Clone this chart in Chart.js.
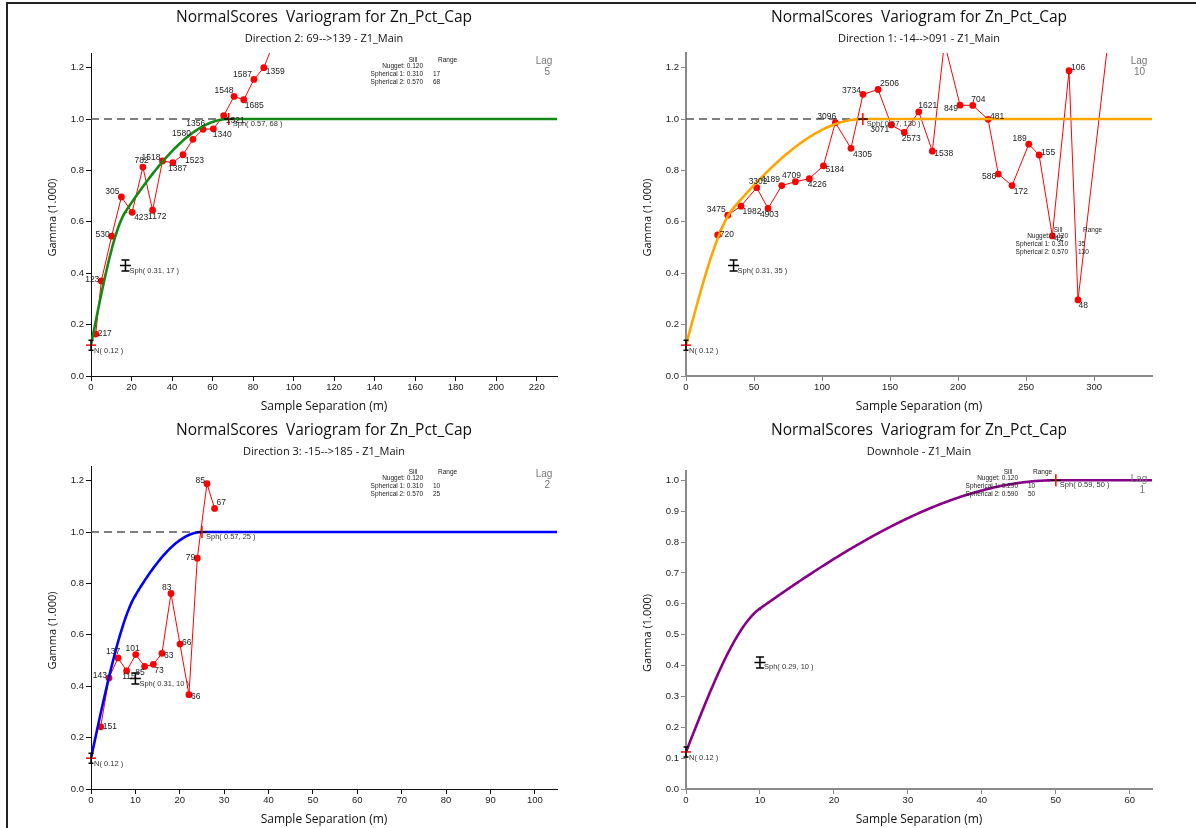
<!DOCTYPE html>
<html>
<head>
<meta charset="utf-8">
<script src="https://cdn.jsdelivr.net/npm/chart.js@4.4.1/dist/chart.umd.min.js"></script>
<style>
  html, body { margin: 0; padding: 0; background: #ffffff; }
  #page { position: relative; width: 1196px; height: 828px; overflow: hidden; background: #fff; }
  #page canvas { position: absolute; }
  .rule { position: absolute; background: #222; }
</style>
</head>
<body>
<div id="page">
  <canvas id="cDir2" width="598" height="414" style="left:0px;top:0px"></canvas>
  <canvas id="cDir1" width="598" height="414" style="left:598px;top:0px"></canvas>
  <canvas id="cDir3" width="598" height="414" style="left:0px;top:414px"></canvas>
  <canvas id="cDown" width="598" height="414" style="left:598px;top:414px"></canvas>
  <div class="rule" style="left:6px;top:2px;width:1.5px;height:826px"></div>
  <div class="rule" style="left:6px;top:2px;width:1190px;height:1.5px"></div>
</div>
<script>
// ---- Experimental variogram, Direction 2: 69-->139 (lag 5) ----
const lagDir2   = [2.3, 5.1, 10.2, 15.0, 20.3, 25.6, 30.4, 35.3, 40.4, 45.4, 50.3, 55.3, 60.4, 65.5, 70.6, 75.4, 80.4, 85.3, 90.3];
const gammaDir2 = [0.163, 0.370, 0.544, 0.697, 0.637, 0.813, 0.645, 0.837, 0.830, 0.861, 0.921, 0.960, 0.962, 1.013, 1.088, 1.075, 1.154, 1.200, 1.300];
const pairsDir2 = [217, 123, 530, 305, 423, 782, 1172, 1518, 1387, 1523, 1580, 1356, 1340, 1321, 1548, 1685, 1587, 1359, 1402];

// ---- Experimental variogram, Direction 1: -14-->091 (lag 10) ----
const lagDir1   = [23.3, 30.7, 40.4, 52.0, 60.3, 70.4, 80.4, 90.7, 101.0, 109.8, 121.3, 130.1, 141.2, 150.9, 160.5, 171.1, 181.1, 190.0, 201.5, 210.8, 222.1, 229.6, 239.7, 252.0, 259.6, 269.3, 281.6, 288.2, 310.0];
const gammaDir1 = [0.549, 0.626, 0.661, 0.733, 0.652, 0.741, 0.756, 0.768, 0.818, 0.986, 0.886, 1.096, 1.115, 0.977, 0.948, 1.028, 0.875, 1.297, 1.054, 1.053, 0.999, 0.786, 0.741, 0.902, 0.860, 0.545, 1.188, 0.296, 1.290];
const pairsDir1 = [720, 3475, 1982, 3302, 4903, 4189, 4709, 4226, 5184, 3096, 4305, 3734, 2506, 3071, 2573, 1621, 1538, 1190, 849, 704, 481, 586, 172, 189, 155, 42, 106, 48, 31];

// ---- Experimental variogram, Direction 3: -15-->185 (lag 2) ----
const lagDir3   = [2.18, 4.05, 6.08, 8.03, 10.07, 12.09, 14.04, 15.99, 18.02, 20.05, 22.07, 23.95, 26.13, 27.85];
const gammaDir3 = [0.242, 0.432, 0.510, 0.460, 0.523, 0.477, 0.485, 0.528, 0.761, 0.564, 0.367, 0.898, 1.188, 1.092];
const pairsDir3 = [151, 143, 137, 115, 101, 85, 73, 63, 83, 66, 66, 79, 85, 67];

// ---- Downhole (lag 1): no experimental points ----
const lagDown   = [];
const gammaDown = [];
const pairsDown = [];

// ---- Fitted models: nugget + spherical structures (sill, range) ----
const nuggetDir2 = 0.12; const sillsDir2 = [0.31, 0.57]; const rangesDir2 = [17, 68];
const nuggetDir1 = 0.12; const sillsDir1 = [0.31, 0.57]; const rangesDir1 = [35, 130];
const nuggetDir3 = 0.12; const sillsDir3 = [0.31, 0.57]; const rangesDir3 = [10, 25];
const nuggetDown = 0.12; const sillsDown = [0.29, 0.59]; const rangesDown = [10, 50];

// Normal-score variance (dashed reference line)
const sampleVariance = 1.0;

const TITLE = 'NormalScores  Variogram for Zn_Pct_Cap';

const panels = [
  { id: 'cDir2', subtitle: 'Direction 2: 69-->139 - Z1_Main', lagText: '5',
    lags: lagDir2, gamma: gammaDir2, pairs: pairsDir2,
    nugget: nuggetDir2, sills: sillsDir2, ranges: rangesDir2,
    color: '#148a14', xMax: 230, xStep: 20, yMax: 1.257, yStep: 0.2, varLine: true,
    area: { left: 91, right: 557, top: 53, bottom: 376 },
    axis: { color: '#111', width: 1 }, table: { x: 423, y: 60 }, titleY: 18, subY: 39 },
  { id: 'cDir1', subtitle: 'Direction 1: -14-->091 - Z1_Main', lagText: '10',
    lags: lagDir1, gamma: gammaDir1, pairs: pairsDir1,
    nugget: nuggetDir1, sills: sillsDir1, ranges: rangesDir1,
    color: '#ffa500', xMax: 342.6, xStep: 50, yMax: 1.257, yStep: 0.2, varLine: true,
    area: { left: 88, right: 554, top: 53, bottom: 376 },
    axis: { color: '#8a8a8a', width: 2 }, table: { x: 470, y: 230 }, titleY: 18, subY: 39 },
  { id: 'cDir3', subtitle: 'Direction 3: -15-->185 - Z1_Main', lagText: '2',
    lags: lagDir3, gamma: gammaDir3, pairs: pairsDir3,
    nugget: nuggetDir3, sills: sillsDir3, ranges: rangesDir3,
    color: '#0000ff', xMax: 105, xStep: 10, yMax: 1.257, yStep: 0.2, varLine: true,
    area: { left: 91, right: 557, top: 52, bottom: 375 },
    axis: { color: '#111', width: 1 }, table: { x: 423, y: 58 }, titleY: 17, subY: 38 },
  { id: 'cDown', subtitle: 'Downhole - Z1_Main', lagText: '1',
    lags: lagDown, gamma: gammaDown, pairs: pairsDown,
    nugget: nuggetDown, sills: sillsDown, ranges: rangesDown,
    color: '#880088', xMax: 63, xStep: 10, yMax: 1.03, yStep: 0.1, varLine: false,
    area: { left: 88, right: 554, top: 57, bottom: 375 },
    axis: { color: '#8a8a8a', width: 2 }, table: { x: 420, y: 58 }, titleY: 17, subY: 38 }
];

// Spherical structure, normalised to unit sill
function sph(h, a) {
  if (h >= a) return 1;
  const r = h / a;
  return 1.5 * r - 0.5 * r * r * r;
}

function modelCurve(nugget, sills, ranges, xMax) {
  const hs = [];
  const n = 400;
  for (let i = 0; i <= n; i++) hs.push(xMax * i / n);
  ranges.forEach(r => hs.push(r));
  hs.sort((a, b) => a - b);
  return hs.map(h => ({
    x: h,
    y: nugget + sills.reduce((s, c, k) => s + c * sph(h, ranges[k]), 0)
  }));
}

const SMALL = '"Liberation Sans", Arial, sans-serif';
const TITLEFONT = '"Open Sans", "Liberation Sans", sans-serif';

function drawModelMarkers(ctx, chart, p) {
  const xs = chart.scales.x, ys = chart.scales.y;
  ctx.lineWidth = 1.5;
  ctx.font = '7.5px ' + SMALL;
  ctx.textAlign = 'left';
  ctx.textBaseline = 'middle';

  // Nugget marker
  let px = xs.getPixelForValue(0), py = ys.getPixelForValue(p.nugget);
  ctx.strokeStyle = '#ff0000';
  ctx.beginPath(); ctx.moveTo(px - 5, py); ctx.lineTo(px + 5, py); ctx.stroke();
  ctx.strokeStyle = '#000';
  ctx.beginPath();
  ctx.moveTo(px, py - 5); ctx.lineTo(px, py + 5);
  ctx.moveTo(px - 2.5, py - 5); ctx.lineTo(px + 2.5, py - 5);
  ctx.moveTo(px - 2.5, py + 5); ctx.lineTo(px + 2.5, py + 5);
  ctx.stroke();
  ctx.fillStyle = '#333';
  ctx.fillText('N( ' + p.nugget.toFixed(2) + ' )', px + 3, py + 6);

  // Structure markers at (range, cumulative sill)
  let cum = p.nugget;
  p.sills.forEach((c, k) => {
    cum += c;
    px = xs.getPixelForValue(p.ranges[k]);
    py = ys.getPixelForValue(cum);
    if (k < p.sills.length - 1) {
      ctx.strokeStyle = '#000';
      ctx.beginPath();
      ctx.moveTo(px, py - 5.5); ctx.lineTo(px, py + 5.5);
      ctx.moveTo(px - 4, py - 5.5); ctx.lineTo(px + 4, py - 5.5);
      ctx.moveTo(px - 4, py + 5.5); ctx.lineTo(px + 4, py + 5.5);
      ctx.moveTo(px - 5.5, py); ctx.lineTo(px + 5.5, py);
      ctx.stroke();
    } else {
      ctx.strokeStyle = '#000';
      ctx.beginPath(); ctx.moveTo(px - 5, py); ctx.lineTo(px + 5, py); ctx.stroke();
      ctx.strokeStyle = '#ff0000';
      ctx.beginPath(); ctx.moveTo(px, py - 6); ctx.lineTo(px, py + 6); ctx.stroke();
    }
    ctx.fillStyle = '#333';
    ctx.fillText('Sph( ' + c.toFixed(2) + ', ' + p.ranges[k] + ' )', px + 4, py + 5);
  });
}

// Pair counts placed on the outer side of the bend at each point
function drawPointLabels(ctx, chart, meta, pairs) {
  const pts = meta.data;
  const area = chart.chartArea;
  ctx.font = '8.5px ' + SMALL;
  ctx.fillStyle = '#222';
  ctx.textAlign = 'center';
  ctx.textBaseline = 'middle';
  const clamp = v => Math.max(-1, Math.min(1, v));
  for (let i = 0; i < pts.length; i++) {
    const P = pts[i];
    if (P.y < area.top || P.y > area.bottom || P.x > area.right) continue;
    let nx, ny;
    if (i === 0) { nx = 1; ny = 0; }
    else if (i === pts.length - 1) { nx = 0.7; ny = -0.7; }
    else {
      const A = pts[i - 1], B = pts[i + 1];
      const cx = B.x - A.x, cy = B.y - A.y;
      const len = Math.hypot(cx, cy) || 1;
      nx = cy / len; ny = -cx / len;
      const vx = P.x - (A.x + B.x) / 2, vy = P.y - (A.y + B.y) / 2;
      const d = nx * vx + ny * vy;
      if (Math.abs(d) < 0.5) { if (ny > 0) { nx = -nx; ny = -ny; } }
      else if (d < 0) { nx = -nx; ny = -ny; }
    }
    const text = String(pairs[i]);
    const w = ctx.measureText(text).width;
    const dx = clamp(nx * 1.4) * (w / 2 + 2);
    const dy = clamp(ny * 1.4) * 6;
    ctx.fillText(text, P.x + dx, P.y + dy);
  }
}

function drawTexts(ctx, chart, p) {
  const a = chart.chartArea;
  const cx = (a.left + a.right) / 2;
  ctx.fillStyle = '#111';
  ctx.textAlign = 'center';
  ctx.textBaseline = 'middle';
  ctx.font = '15.5px ' + TITLEFONT;
  ctx.fillText(TITLE, cx, p.titleY);
  ctx.font = '11px ' + TITLEFONT;
  ctx.fillText(p.subtitle, cx, p.subY);

  // Axis titles
  ctx.font = '12px ' + TITLEFONT;
  ctx.fillText('Sample Separation (m)', cx, a.bottom + 31);
  ctx.save();
  ctx.translate(a.left - 38, (a.top + a.bottom) / 2 + 3);
  ctx.rotate(-Math.PI / 2);
  ctx.font = '11px ' + TITLEFONT;
  ctx.fillText('Gamma (1.000)', 0, 0);
  ctx.restore();

  // Model parameter table
  const t = p.table;
  ctx.fillStyle = '#222';
  ctx.font = '6.5px ' + SMALL;
  ctx.textAlign = 'center';
  ctx.fillText('Sill', t.x - 10, t.y);
  ctx.textAlign = 'left';
  ctx.fillText('Range', t.x + 15, t.y);
  ctx.textAlign = 'right';
  ctx.fillText('Nugget: ' + p.nugget.toFixed(3), t.x, t.y + 6);
  p.sills.forEach((c, k) => {
    const y = t.y + 14 + 8 * k;
    ctx.textAlign = 'right';
    ctx.fillText('Spherical ' + (k + 1) + ': ' + c.toFixed(3), t.x, y);
    ctx.textAlign = 'left';
    ctx.fillText(String(p.ranges[k]), t.x + 10, y);
  });

  // Lag annotation
  ctx.fillStyle = '#777';
  ctx.font = '10px ' + SMALL;
  ctx.textAlign = 'center';
  ctx.fillText('Lag', a.right - 13, a.top + 8);
  ctx.textAlign = 'right';
  ctx.fillText(p.lagText, a.right - 7, a.top + 19);
}

function buildChart(p) {
  const datasets = [];
  datasets.push({
    data: modelCurve(p.nugget, p.sills, p.ranges, p.xMax),
    showLine: true, borderColor: p.color, borderWidth: 2.6,
    pointRadius: 0, fill: false, tension: 0
  });
  datasets.push({
    data: p.lags.map((x, i) => ({ x: x, y: p.gamma[i] })),
    showLine: true, borderColor: '#ff0000', borderWidth: 1,
    pointRadius: 3.4, pointBackgroundColor: '#ff0000', pointBorderWidth: 0,
    fill: false, tension: 0
  });
  if (p.varLine) {
    datasets.push({
      data: [{ x: 0, y: sampleVariance }, { x: p.xMax, y: sampleVariance }],
      showLine: true, borderColor: '#555', borderWidth: 1.5, borderDash: [8, 5],
      pointRadius: 0, fill: false
    });
  }
  const canvas = document.getElementById(p.id);
  const W = canvas.width, H = canvas.height;
  const tickFont = { family: SMALL, size: 9.5 };
  return new Chart(canvas, {
    type: 'scatter',
    data: { datasets: datasets },
    options: {
      responsive: false,
      animation: false,
      events: [],
      layout: { padding: { left: 0, top: p.area.top, right: W - p.area.right, bottom: 0 } },
      plugins: { legend: { display: false }, tooltip: { enabled: false }, title: { display: false } },
      scales: {
        x: {
          type: 'linear', min: 0, max: p.xMax,
          border: { color: p.axis.color, width: p.axis.width },
          grid: { drawOnChartArea: false, drawTicks: true, tickLength: 5, color: p.axis.color, lineWidth: 1 },
          ticks: { stepSize: p.xStep, includeBounds: false, padding: 1, color: '#222', font: tickFont, maxRotation: 0,
                   callback: v => String(Math.round(v)) },
          afterFit: s => { s.height = H - p.area.bottom; }
        },
        y: {
          type: 'linear', min: 0, max: p.yMax,
          border: { color: p.axis.color, width: p.axis.width },
          grid: { drawOnChartArea: false, drawTicks: true, tickLength: 5, color: p.axis.color, lineWidth: 1 },
          ticks: { stepSize: p.yStep, includeBounds: false, padding: 2, color: '#222', font: tickFont,
                   callback: v => Number(v).toFixed(1) },
          afterFit: s => { s.width = p.area.left; }
        }
      }
    },
    plugins: [{
      id: 'decor',
      afterDatasetsDraw(chart) {
        const ctx = chart.ctx;
        ctx.save();
        drawModelMarkers(ctx, chart, p);
        if (p.lags.length) drawPointLabels(ctx, chart, chart.getDatasetMeta(1), p.pairs);
        ctx.restore();
      },
      afterDraw(chart) {
        const ctx = chart.ctx;
        ctx.save();
        drawTexts(ctx, chart, p);
        ctx.restore();
      }
    }]
  });
}

panels.forEach(buildChart);
</script>
</body>
</html>
